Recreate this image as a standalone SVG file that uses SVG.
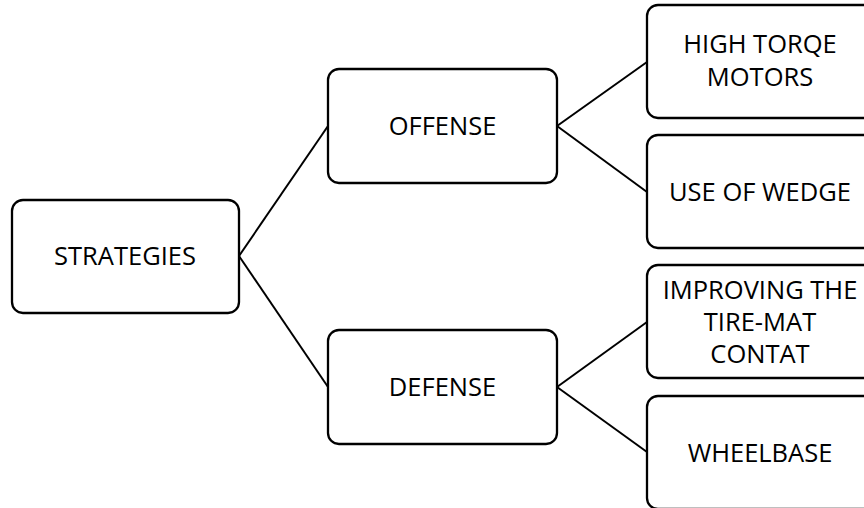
<svg xmlns="http://www.w3.org/2000/svg" width="864" height="508" viewBox="0 0 864 508">
<style>
.box{fill:#fff;stroke:#000;stroke-width:2.3}
.t{font-family:"Open Sans","Liberation Sans",sans-serif;font-size:25.5px;fill:#000;text-anchor:middle}
.c{stroke:#000;stroke-width:2;fill:none}
</style>
<rect width="864" height="508" fill="#fff"/>
<g id="connectors">
<line class="c" x1="239" y1="256" x2="328" y2="126"/>
<line class="c" x1="239" y1="256" x2="328" y2="387"/>
<line class="c" x1="557" y1="126" x2="647" y2="62"/>
<line class="c" x1="557" y1="126" x2="647" y2="192"/>
<line class="c" x1="557" y1="387" x2="647" y2="322"/>
<line class="c" x1="557" y1="387" x2="647" y2="452"/>
</g>
<g id="strategies">
<rect class="box" x="12" y="200" width="227" height="113" rx="11"/>
<text class="t" x="125" y="265">STRATEGIES</text>
</g>
<g id="offense">
<rect class="box" x="328" y="69" width="229" height="114" rx="11"/>
<text class="t" x="442.5" y="135">OFFENSE</text>
</g>
<g id="defense">
<rect class="box" x="328" y="330" width="229" height="114" rx="11"/>
<text class="t" x="442.5" y="396">DEFENSE</text>
</g>
<g id="high-torqe">
<rect class="box" x="647" y="5" width="228" height="113" rx="11"/>
<text class="t" x="760" y="53">HIGH TORQE</text>
<text class="t" x="760" y="86">MOTORS</text>
</g>
<g id="wedge">
<rect class="box" x="647" y="135" width="228" height="113" rx="11"/>
<text class="t" x="760" y="200.5">USE OF WEDGE</text>
</g>
<g id="improving">
<rect class="box" x="647" y="265" width="228" height="113" rx="11"/>
<text class="t" x="760" y="299">IMPROVING THE</text>
<text class="t" x="760" y="331">TIRE-MAT</text>
<text class="t" x="760" y="363">CONTAT</text>
</g>
<g id="wheelbase">
<rect class="box" x="647" y="396" width="228" height="113" rx="11"/>
<text class="t" x="760" y="461.5">WHEELBASE</text>
</g>
</svg>
